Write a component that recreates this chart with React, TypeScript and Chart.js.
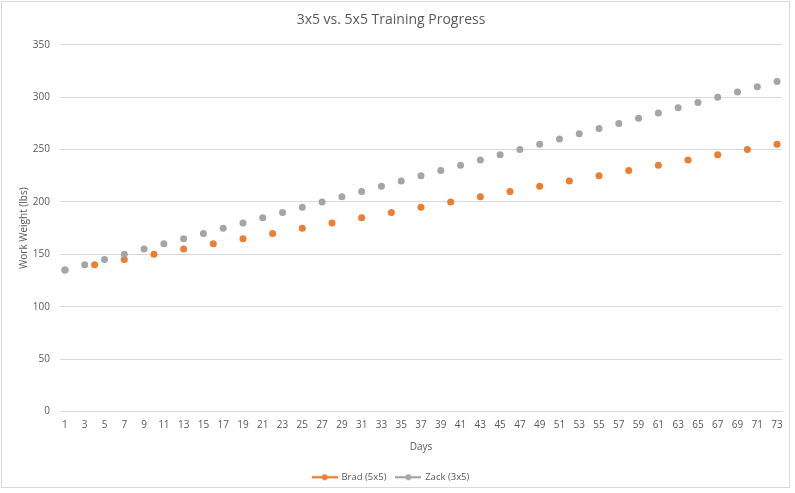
import React, { useEffect, useRef } from "react";
import { Chart, registerables } from "chart.js";

Chart.register(...registerables);

const dayLabels: string[] = [
  "1","2","3","4","5","6","7","8","9","10","11","12","13","14","15","16","17","18","19","20",
  "21","22","23","24","25","26","27","28","29","30","31","32","33","34","35","36","37","38","39","40",
  "41","42","43","44","45","46","47","48","49","50","51","52","53","54","55","56","57","58","59","60",
  "61","62","63","64","65","66","67","68","69","70","71","72","73",
];

const bradDays: number[] = [1, 4, 7, 10, 13, 16, 19, 22, 25, 28, 31, 34, 37, 40, 43, 46, 49, 52, 55, 58, 61, 64, 67, 70, 73];
const bradWeights: number[] = [135, 140, 145, 150, 155, 160, 165, 170, 175, 180, 185, 190, 195, 200, 205, 210, 215, 220, 225, 230, 235, 240, 245, 250, 255];

const zackDays: number[] = [1, 3, 5, 7, 9, 11, 13, 15, 17, 19, 21, 23, 25, 27, 29, 31, 33, 35, 37, 39, 41, 43, 45, 47, 49, 51, 53, 55, 57, 59, 61, 63, 65, 67, 69, 71, 73];
const zackWeights: number[] = [135, 140, 145, 150, 155, 160, 165, 170, 175, 180, 185, 190, 195, 200, 205, 210, 215, 220, 225, 230, 235, 240, 245, 250, 255, 260, 265, 270, 275, 280, 285, 290, 295, 300, 305, 310, 315];

const yTicks: number[] = [0, 50, 100, 150, 200, 250, 300, 350];

const ORANGE = "#ED7D31";
const GRAY = "#A5A5A5";
const TEXT = "#595959";
const FONT = "'Open Sans', 'Noto Sans', sans-serif";

function toSeries(days: number[], weights: number[]): (number | null)[] {
  const out: (number | null)[] = dayLabels.map(() => null);
  days.forEach((d, i) => {
    const idx = dayLabels.indexOf(String(d));
    if (idx >= 0) out[idx] = weights[i];
  });
  return out;
}

function legendIcon(color: string): HTMLCanvasElement {
  const c = document.createElement("canvas");
  c.width = 26;
  c.height = 8;
  const ctx = c.getContext("2d")!;
  ctx.strokeStyle = color;
  ctx.lineWidth = 2.25;
  ctx.beginPath();
  ctx.moveTo(0, 4);
  ctx.lineTo(26, 4);
  ctx.stroke();
  ctx.fillStyle = color;
  ctx.beginPath();
  ctx.arc(13, 4, 3, 0, Math.PI * 2);
  ctx.fill();
  return c;
}

const borderPlugin = {
  id: "frameBorder",
  afterDraw(chart: any) {
    const ctx = chart.ctx;
    ctx.save();
    ctx.strokeStyle = "#D9D9D9";
    ctx.lineWidth = 1;
    ctx.strokeRect(1.5, 1.5, 788, 486);
    ctx.restore();
  },
};

export default function App() {
  const ref = useRef<HTMLCanvasElement | null>(null);

  useEffect(() => {
    document.body.style.margin = "0";
    const canvas = ref.current;
    if (!canvas) return;
    const icons = [legendIcon(ORANGE), legendIcon(GRAY)];
    const chart = new Chart(canvas, {
      type: "line",
      data: {
        labels: dayLabels,
        datasets: [
          {
            label: "Brad (5x5)",
            data: toSeries(bradDays, bradWeights),
            borderColor: ORANGE,
            backgroundColor: ORANGE,
            showLine: false,
            pointRadius: 3.5,
            pointBorderWidth: 0,
            pointBackgroundColor: ORANGE,
            order: 2,
          },
          {
            label: "Zack (3x5)",
            data: toSeries(zackDays, zackWeights),
            borderColor: GRAY,
            backgroundColor: GRAY,
            showLine: false,
            pointRadius: 3.5,
            pointBorderWidth: 0,
            pointBackgroundColor: GRAY,
            order: 1,
          },
        ],
      },
      options: {
        animation: false,
        responsive: false,
        maintainAspectRatio: false,
        layout: { padding: { left: 0, right: 13, top: 0, bottom: 1 } },
        plugins: {
          title: {
            display: true,
            text: "3x5 vs. 5x5 Training Progress",
            color: TEXT,
            font: { family: FONT, size: 14, weight: "normal" },
            padding: { top: 12, bottom: 16 },
          },
          legend: {
            position: "bottom",
            labels: {
              color: TEXT,
              font: { family: FONT, size: 9.5 },
              usePointStyle: true,
              pointStyleWidth: 24,
              boxWidth: 24,
              boxHeight: 8,
              padding: 10,
              generateLabels: (ch: any) =>
                ch.data.datasets.map((ds: any, i: number) => ({
                  text: ds.label,
                  fillStyle: ds.backgroundColor,
                  strokeStyle: ds.borderColor,
                  pointStyle: icons[i],
                  fontColor: TEXT,
                  lineWidth: 0,
                  hidden: false,
                  datasetIndex: i,
                })),
            },
          },
          tooltip: { enabled: false },
        },
        scales: {
          x: {
            type: "category",
            offset: true,
            grid: { display: false, drawTicks: false },
            border: { display: true, color: "#D9D9D9", width: 1 },
            ticks: {
              autoSkip: false,
              maxRotation: 0,
              minRotation: 0,
              color: TEXT,
              font: { family: FONT, size: 10 },
              padding: 8,
              callback: (_v: any, i: number) => (i % 2 === 0 ? dayLabels[i] : ""),
            },
            title: {
              display: true,
              text: "Days",
              color: TEXT,
              font: { family: FONT, size: 10 },
              padding: { top: 2, bottom: 9 },
            },
          },
          y: {
            min: yTicks[0],
            max: yTicks[yTicks.length - 1],
            afterBuildTicks: (scale: any) => {
              scale.ticks = yTicks.map((v) => ({ value: v }));
            },
            afterFit: (scale: any) => {
              scale.width = 60;
            },
            grid: { color: "#D9D9D9", drawTicks: false },
            border: { display: false },
            ticks: {
              color: TEXT,
              font: { family: FONT, size: 10 },
              padding: 10,
            },
            title: {
              display: true,
              text: "Work Weight (lbs)",
              color: TEXT,
              font: { family: FONT, size: 10 },
              padding: { top: 18, bottom: 4 },
            },
          },
        },
      },
      plugins: [borderPlugin],
    } as any);
    return () => chart.destroy();
  }, []);

  return (
    <div style={{ width: 795, height: 493, background: "#fff" }}>
      <canvas ref={ref} width={795} height={493} style={{ display: "block" }} />
    </div>
  );
}
